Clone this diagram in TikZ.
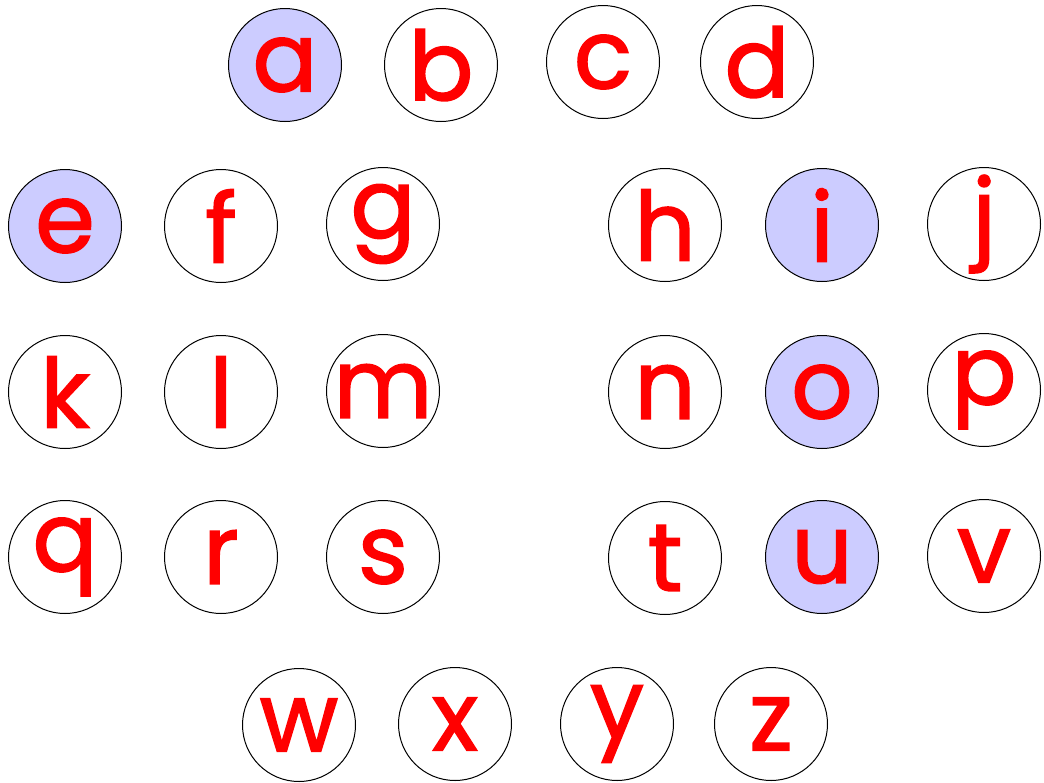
\documentclass[tikz,border=0pt]{standalone}
\usepackage{fontspec}
\newfontfamily\ltrfont{Poppins}[FakeBold=1.6]
\definecolor{letterred}{RGB}{255,0,0}
\definecolor{hilite}{RGB}{204,204,255}
\tikzset{
  ltr/.style={circle,draw=black,line width=1pt,minimum size=113pt,inner sep=0pt,
    text=letterred,font=\ltrfont\fontsize{96}{96}\selectfont},
  hl/.style={ltr,fill=hilite}
}
\begin{document}
\begin{tikzpicture}[x=1pt,y=-1pt]
\useasboundingbox (0,0) rectangle (1044,782);
\node[hl]  (a) at (285,65) {a};
\node[ltr] (b) at (441,65) {b};
\node[ltr] (c) at (603,62) {c};
\node[ltr] (d) at (757,62) {d};
\node[hl]  (e) at (65,226) {e};
\node[ltr] (f) at (221,226) {f};
\node[ltr] (g) at (383,224) {g};
\node[ltr] (h) at (665,225) {h};
\node[hl]  (i) at (822,225) {i};
\node[ltr] (j) at (984,224) {j};
\node[ltr] (k) at (65,392) {k};
\node[ltr] (l) at (221,392) {l};
\node[ltr] (m) at (383,391) {m};
\node[ltr] (n) at (665,392) {n};
\node[hl]  (o) at (822,392) {o};
\node[ltr] (p) at (984,390) {p};
\node[ltr] (q) at (65,557) {q};
\node[ltr] (r) at (221,557) {r};
\node[ltr] (s) at (383,557) {s};
\node[ltr] (t) at (665,558) {t};
\node[hl]  (u) at (822,557) {u};
\node[ltr] (v) at (984,556) {v};
\node[ltr] (w) at (299,725) {w};
\node[ltr] (x) at (455,724) {x};
\node[ltr] (y) at (617,724) {y};
\node[ltr] (z) at (771,724) {z};
\end{tikzpicture}
\end{document}
